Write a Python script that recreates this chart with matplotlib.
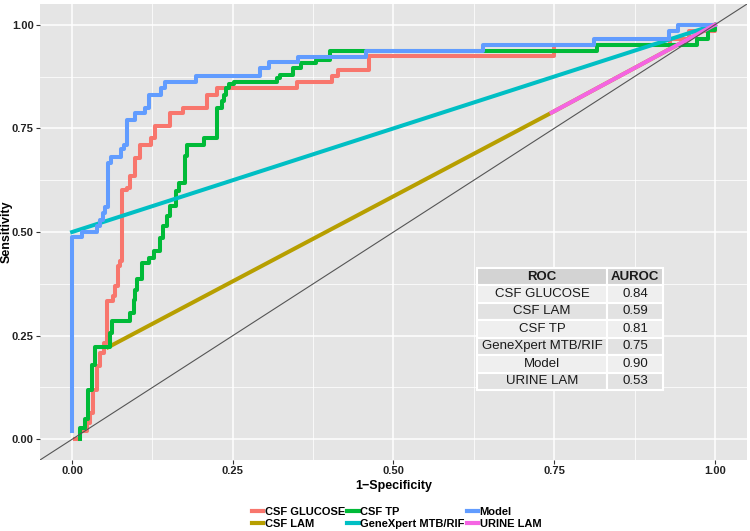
import matplotlib
matplotlib.use("Agg")
import matplotlib.pyplot as plt
from matplotlib.lines import Line2D

plt.rcParams['font.family'] = ['Liberation Sans', 'DejaVu Sans']

# ROC table
roc_names = ["CSF GLUCOSE", "CSF LAM", "CSF TP", "GeneXpert MTB/RIF", "Model", "URINE LAM"]
auroc = ["0.84", "0.59", "0.81", "0.75", "0.90", "0.53"]
colors = ["#F8766D", "#B79F00", "#00BA38", "#00BFC4", "#619CFF", "#F564E3"]

# step curves: at fpr[i] the sensitivity rises to tpr[i]
glucose_fpr = [0.005, 0.012, 0.023, 0.028, 0.033, 0.038, 0.044, 0.049, 0.054, 0.064, 0.067,
               0.072, 0.075, 0.078, 0.085, 0.09, 0.098, 0.106, 0.122, 0.129, 0.153, 0.173,
               0.21, 0.226, 0.35, 0.405, 0.413, 0.462, 0.75, 0.93, 0.96, 1.0]
glucose_tpr = [0.0, 0.02, 0.04, 0.064, 0.12, 0.177, 0.209, 0.233, 0.333, 0.345, 0.369,
               0.418, 0.43, 0.602, 0.607, 0.634, 0.679, 0.711, 0.727, 0.755, 0.787, 0.80,
               0.831, 0.847, 0.863, 0.877, 0.89, 0.924, 0.950, 0.966, 0.985, 1.0]

tp_fpr = [0.0125, 0.0125, 0.02, 0.025, 0.031, 0.035, 0.059, 0.062, 0.09, 0.096, 0.098,
          0.101, 0.109, 0.119, 0.127, 0.137, 0.142, 0.147, 0.153, 0.161, 0.166, 0.176,
          0.179, 0.205, 0.226, 0.233, 0.236, 0.239, 0.244, 0.252, 0.319, 0.324, 0.343,
          0.356, 0.379, 0.402, 0.816, 0.972, 0.99, 1.0]
tp_tpr = [0.0, 0.028, 0.048, 0.12, 0.18, 0.222, 0.257, 0.285, 0.305, 0.337, 0.36,
          0.386, 0.426, 0.438, 0.454, 0.486, 0.514, 0.538, 0.562, 0.60, 0.619, 0.683,
          0.711, 0.727, 0.80, 0.815, 0.83, 0.847, 0.857, 0.862, 0.872, 0.88, 0.896,
          0.908, 0.916, 0.936, 0.950, 0.966, 0.988, 1.0]

model_fpr = [0.0, 0.0, 0.015, 0.038, 0.044, 0.048, 0.051, 0.056, 0.06, 0.076, 0.08, 0.086,
             0.098, 0.114, 0.12, 0.138, 0.145, 0.193, 0.292, 0.306, 0.351, 0.457, 0.639,
             0.812, 0.928, 0.943, 1.0]
model_tpr = [0.019, 0.487, 0.50, 0.514, 0.53, 0.547, 0.56, 0.667, 0.68, 0.70, 0.71, 0.77,
             0.787, 0.80, 0.83, 0.848, 0.863, 0.877, 0.896, 0.909, 0.922, 0.936, 0.952,
             0.966, 0.985, 1.0, 1.0]

# single-threshold tests (straight segments)
lam_fpr = [0.056, 0.746, 1.0]
lam_tpr = [0.222, 0.788, 1.0]
xpert_fpr = [0.0, 1.0]
xpert_tpr = [0.50, 1.0]
urine_fpr = [0.746, 1.0]
urine_tpr = [0.788, 1.0]

fig = plt.figure(figsize=(7.5, 5.31), dpi=100)
ax = fig.add_axes([0.0533, 0.1337, 0.9427, 0.8587])
ax.set_facecolor("#E5E5E5")
for s in ax.spines.values():
    s.set_visible(False)

lw = 2.9
ax.step(glucose_fpr, glucose_tpr, where="post", color=colors[0], lw=lw, zorder=3)
ax.plot(lam_fpr, lam_tpr, color=colors[1], lw=lw, zorder=4)
ax.step(tp_fpr, tp_tpr, where="post", color=colors[2], lw=lw, zorder=5)
ax.plot(xpert_fpr, xpert_tpr, color=colors[3], lw=lw, zorder=6)
ax.step(model_fpr, model_tpr, where="post", color=colors[4], lw=lw, zorder=7)
ax.plot(urine_fpr, urine_tpr, color=colors[5], lw=lw, zorder=8)
ax.axline((0, 0), (1, 1), color="#555555", lw=0.8, zorder=9)

ax.set_xlim(-0.05, 1.05)
ax.set_ylim(-0.05, 1.05)
ticks = [0, 0.25, 0.5, 0.75, 1.0]
minor = [0.125, 0.375, 0.625, 0.875]
ax.set_xticks(ticks)
ax.set_yticks(ticks)
ax.set_xticks(minor, minor=True)
ax.set_yticks(minor, minor=True)
ax.set_xticklabels(["0.00", "0.25", "0.50", "0.75", "1.00"])
ax.set_yticklabels(["0.00", "0.25", "0.50", "0.75", "1.00"])
ax.grid(which="major", color="white", lw=1.1, zorder=0)
ax.grid(which="minor", color="white", lw=0.55, zorder=0)
ax.set_axisbelow(True)
ax.tick_params(which="major", length=3, color="#333333", labelsize=8, pad=1.5)
ax.tick_params(which="minor", length=0)
for lab in ax.get_xticklabels() + ax.get_yticklabels():
    lab.set_fontweight("bold")
    lab.set_color("#222222")

ax.set_xlabel("1\u2212Specificity", fontsize=9, fontweight="bold", labelpad=3)
ax.set_ylabel("Sensitivity", fontsize=9, fontweight="bold")
ax.yaxis.set_label_coords(-0.039, 0.5)

# AUROC table
tbl = ax.table(cellText=[[n, a] for n, a in zip(roc_names, auroc)],
               colLabels=["ROC", "AUROC"], cellLoc="center",
               colWidths=[0.70, 0.30], bbox=[0.618, 0.1535, 0.263, 0.268], zorder=10)
tbl.auto_set_font_size(False)
for (r, c), cell in tbl.get_celld().items():
    cell.set_edgecolor("white")
    cell.set_linewidth(1.5)
    cell.get_text().set_fontsize(9.5)
    cell.get_text().set_color("#1a1a1a")
    if r == 0:
        cell.set_facecolor("#D3D3D3")
        cell.get_text().set_fontweight("bold")
    elif r % 2 == 1:
        cell.set_facecolor("#EFEFEF")
    else:
        cell.set_facecolor("#E2E2E2")

handles = [Line2D([0], [0], color=c, lw=3) for c in colors]
fig.legend(handles, roc_names, loc="center", bbox_to_anchor=(0.529, 0.0245), ncol=3,
           frameon=False, prop={"weight": "bold", "size": 8}, handlelength=1.0,
           handletextpad=0.15, columnspacing=0.2, labelspacing=0.25, borderpad=0)

fig.savefig("out.png", dpi=100)
